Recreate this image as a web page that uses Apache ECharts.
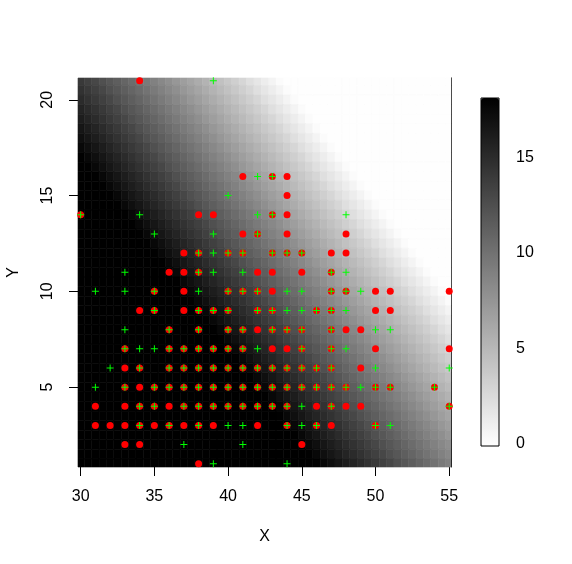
<!DOCTYPE html>
<html>
<head>
<meta charset="utf-8">
<script src="https://cdn.jsdelivr.net/npm/echarts@6/dist/echarts.min.js"></script>
<style>
  html, body { margin: 0; padding: 0; background: #fff; }
  #chart { width: 572px; height: 564px; }
</style>
</head>
<body>
<div id="chart"></div>
<script>
// grid columns (X) and rows (Y) of the shaded surface, half-unit steps
var heatX = [30, 30.5, 31, 31.5, 32, 32.5, 33, 33.5, 34, 34.5, 35, 35.5, 36, 36.5, 37, 37.5, 38, 38.5, 39, 39.5,
  40, 40.5, 41, 41.5, 42, 42.5, 43, 43.5, 44, 44.5, 45, 45.5, 46, 46.5, 47, 47.5, 48, 48.5, 49, 49.5,
  50, 50.5, 51, 51.5, 52, 52.5, 53, 53.5, 54, 54.5, 55];
var heatY = [21, 20.5, 20, 19.5, 19, 18.5, 18, 17.5, 17, 16.5, 16, 15.5, 15, 14.5, 14, 13.5, 13, 12.5, 12, 11.5,
  11, 10.5, 10, 9.5, 9, 8.5, 8, 7.5, 7, 6.5, 6, 5.5, 5, 4.5, 4, 3.5, 3, 2.5, 2, 1.5, 1];
var heatRowText = [
  '14.0 13.5 13.0 12.4 11.9 11.4 10.9 10.4 9.9 9.4 8.9 8.4 7.9 7.3 6.8 6.3 5.8 5.3 4.8 4.3 3.8 3.3 2.8 2.2 1.7 1.2 0.7 0.2 0 0 0 0 0 0 0 0 0 0 0 0 0 0 0 0 0 0 0 0 0 0 0',
  '14.5 14.0 13.5 13.0 12.4 11.9 11.4 10.9 10.4 9.9 9.4 8.9 8.4 7.9 7.3 6.8 6.3 5.8 5.3 4.8 4.3 3.8 3.3 2.8 2.2 1.7 1.2 0.7 0.2 0 0 0 0 0 0 0 0 0 0 0 0 0 0 0 0 0 0 0 0 0 0',
  '15.0 14.5 14.0 13.5 13.0 12.4 11.9 11.4 10.9 10.4 9.9 9.4 8.9 8.4 7.9 7.3 6.8 6.3 5.8 5.3 4.8 4.3 3.8 3.3 2.8 2.2 1.7 1.2 0.7 0.2 0 0 0 0 0 0 0 0 0 0 0 0 0 0 0 0 0 0 0 0 0',
  '15.5 15.0 14.5 14.0 13.5 13.0 12.4 11.9 11.4 10.9 10.4 9.9 9.4 8.9 8.4 7.9 7.3 6.8 6.3 5.8 5.3 4.8 4.3 3.8 3.3 2.8 2.2 1.7 1.2 0.7 0.2 0 0 0 0 0 0 0 0 0 0 0 0 0 0 0 0 0 0 0 0',
  '16.0 15.5 15.0 14.5 14.0 13.5 13.0 12.4 11.9 11.4 10.9 10.4 9.9 9.4 8.9 8.4 7.9 7.3 6.8 6.3 5.8 5.3 4.8 4.3 3.8 3.3 2.8 2.2 1.7 1.2 0.7 0.2 0 0 0 0 0 0 0 0 0 0 0 0 0 0 0 0 0 0 0',
  '16.5 16.0 15.5 15.0 14.5 14.0 13.5 13.0 12.4 11.9 11.4 10.9 10.4 9.9 9.4 8.9 8.4 7.9 7.3 6.8 6.3 5.8 5.3 4.8 4.3 3.8 3.3 2.8 2.2 1.7 1.2 0.7 0.2 0 0 0 0 0 0 0 0 0 0 0 0 0 0 0 0 0 0',
  '17.0 16.5 16.0 15.5 15.0 14.5 14.0 13.5 13.0 12.4 11.9 11.4 10.9 10.4 9.9 9.4 8.9 8.4 7.9 7.3 6.8 6.3 5.8 5.3 4.8 4.3 3.8 3.3 2.8 2.2 1.7 1.2 0.7 0.2 0 0 0 0 0 0 0 0 0 0 0 0 0 0 0 0 0',
  '17.5 17.0 16.5 16.0 15.5 15.0 14.5 14.0 13.5 13.0 12.4 11.9 11.4 10.9 10.4 9.9 9.4 8.9 8.4 7.9 7.3 6.8 6.3 5.8 5.3 4.8 4.3 3.8 3.3 2.8 2.2 1.7 1.2 0.7 0.2 0 0 0 0 0 0 0 0 0 0 0 0 0 0 0 0',
  '18.0 17.5 17.0 16.5 16.0 15.5 15.0 14.5 14.0 13.5 13.0 12.4 11.9 11.4 10.9 10.4 9.9 9.4 8.9 8.4 7.9 7.3 6.8 6.3 5.8 5.3 4.8 4.3 3.8 3.3 2.8 2.2 1.7 1.2 0.7 0.2 0 0 0 0 0 0 0 0 0 0 0 0 0 0 0',
  '18.1 18.0 17.5 17.0 16.5 16.0 15.5 15.0 14.5 14.0 13.5 13.0 12.4 11.9 11.4 10.9 10.4 9.9 9.4 8.9 8.4 7.9 7.3 6.8 6.3 5.8 5.3 4.8 4.3 3.8 3.3 2.8 2.2 1.7 1.2 0.7 0.2 0 0 0 0 0 0 0 0 0 0 0 0 0 0',
  '18.1 18.1 18.0 17.5 17.0 16.5 16.0 15.5 15.0 14.5 14.0 13.5 13.0 12.4 11.9 11.4 10.9 10.4 9.9 9.4 8.9 8.4 7.9 7.3 6.8 6.3 5.8 5.3 4.8 4.3 3.8 3.3 2.8 2.2 1.7 1.2 0.7 0.2 0 0 0 0 0 0 0 0 0 0 0 0 0',
  '18.1 18.1 18.1 18.0 17.5 17.0 16.5 16.0 15.5 15.0 14.5 14.0 13.5 13.0 12.4 11.9 11.4 10.9 10.4 9.9 9.4 8.9 8.4 7.9 7.3 6.8 6.3 5.8 5.3 4.8 4.3 3.8 3.3 2.8 2.2 1.7 1.2 0.7 0.2 0 0 0 0 0 0 0 0 0 0 0 0',
  '18.1 18.1 18.1 18.1 18.0 17.5 17.0 16.5 16.0 15.5 15.0 14.5 14.0 13.5 13.0 12.4 11.9 11.4 10.9 10.4 9.9 9.4 8.9 8.4 7.9 7.3 6.8 6.3 5.8 5.3 4.8 4.3 3.8 3.3 2.8 2.2 1.7 1.2 0.7 0.2 0 0 0 0 0 0 0 0 0 0 0',
  '18.1 18.1 18.1 18.1 18.1 18.0 17.5 17.0 16.5 16.0 15.5 15.0 14.5 14.0 13.5 13.0 12.4 11.9 11.4 10.9 10.4 9.9 9.4 8.9 8.4 7.9 7.3 6.8 6.3 5.8 5.3 4.8 4.3 3.8 3.3 2.8 2.2 1.7 1.2 0.7 0.2 0 0 0 0 0 0 0 0 0 0',
  '18.1 18.1 18.1 18.1 18.1 18.1 18.0 17.5 17.0 16.5 16.0 15.5 15.0 14.5 14.0 13.5 13.0 12.4 11.9 11.4 10.9 10.4 9.9 9.4 8.9 8.4 7.9 7.3 6.8 6.3 5.8 5.3 4.8 4.3 3.8 3.3 2.8 2.2 1.7 1.2 0.7 0.2 0 0 0 0 0 0 0 0 0',
  '18.1 18.1 18.1 18.1 18.1 18.1 18.1 18.0 17.5 17.0 16.5 16.0 15.5 15.0 14.5 14.0 13.5 13.0 12.4 11.9 11.4 10.9 10.4 9.9 9.4 8.9 8.4 7.9 7.3 6.8 6.3 5.8 5.3 4.8 4.3 3.8 3.3 2.8 2.2 1.7 1.2 0.7 0.2 0 0 0 0 0 0 0 0',
  '18.1 18.1 18.1 18.1 18.1 18.1 18.1 18.1 18.0 17.5 17.0 16.5 16.0 15.5 15.0 14.5 14.0 13.5 13.0 12.4 11.9 11.4 10.9 10.4 9.9 9.4 8.9 8.4 7.9 7.3 6.8 6.3 5.8 5.3 4.8 4.3 3.8 3.3 2.8 2.2 1.7 1.2 0.7 0.2 0 0 0 0 0 0 0',
  '18.1 18.1 18.1 18.1 18.1 18.1 18.1 18.1 18.1 18.0 17.5 17.0 16.5 16.0 15.5 15.0 14.5 14.0 13.5 13.0 12.4 11.9 11.4 10.9 10.4 9.9 9.4 8.9 8.4 7.9 7.3 6.8 6.3 5.8 5.3 4.8 4.3 3.8 3.3 2.8 2.2 1.7 1.2 0.7 0.2 0 0 0 0 0 0',
  '18.1 18.1 18.1 18.1 18.1 18.1 18.1 18.1 18.1 18.1 18.0 17.5 17.0 16.5 16.0 15.5 15.0 14.5 14.0 13.5 13.0 12.4 11.9 11.4 10.9 10.4 9.9 9.4 8.9 8.4 7.9 7.3 6.8 6.3 5.8 5.3 4.8 4.3 3.8 3.3 2.8 2.2 1.7 1.2 0.7 0.2 0 0 0 0 0',
  '18.1 18.1 18.1 18.1 18.1 18.1 18.1 18.1 18.1 18.1 18.1 18.0 17.5 17.0 16.5 16.0 15.5 15.0 14.5 14.0 13.5 13.0 12.4 11.9 11.4 10.9 10.4 9.9 9.4 8.9 8.4 7.9 7.3 6.8 6.3 5.8 5.3 4.8 4.3 3.8 3.3 2.8 2.2 1.7 1.2 0.7 0.2 0 0 0 0',
  '18.1 18.1 18.1 18.1 18.1 18.1 18.1 18.1 18.1 18.1 18.1 18.1 18.0 17.5 17.0 16.5 16.0 15.5 15.0 14.5 14.0 13.5 13.0 12.4 11.9 11.4 10.9 10.4 9.9 9.4 8.9 8.4 7.9 7.3 6.8 6.3 5.8 5.3 4.8 4.3 3.8 3.3 2.8 2.2 1.7 1.2 0.7 0.2 0 0 0',
  '18.1 18.1 18.1 18.1 18.1 18.1 18.1 18.1 18.1 18.1 18.1 18.1 18.1 18.0 17.5 17.0 16.5 16.0 15.5 15.0 14.5 14.0 13.5 13.0 12.4 11.9 11.4 10.9 10.4 9.9 9.4 8.9 8.4 7.9 7.3 6.8 6.3 5.8 5.3 4.8 4.3 3.8 3.3 2.8 2.2 1.7 1.2 0.7 0.2 0 0',
  '18.1 18.1 18.1 18.1 18.1 18.1 18.1 18.1 18.1 18.1 18.1 18.1 18.1 18.1 18.0 17.5 17.0 16.5 16.0 15.5 15.0 14.5 14.0 13.5 13.0 12.4 11.9 11.4 10.9 10.4 9.9 9.4 8.9 8.4 7.9 7.3 6.8 6.3 5.8 5.3 4.8 4.3 3.8 3.3 2.8 2.2 1.7 1.2 0.7 0.2 0',
  '18.1 18.1 18.1 18.1 18.1 18.1 18.1 18.1 18.1 18.1 18.1 18.1 18.1 18.1 18.1 18.0 17.5 17.0 16.5 16.0 15.5 15.0 14.5 14.0 13.5 13.0 12.4 11.9 11.4 10.9 10.4 9.9 9.4 8.9 8.4 7.9 7.3 6.8 6.3 5.8 5.3 4.8 4.3 3.8 3.3 2.8 2.2 1.7 1.2 0.7 0.2',
  '18.1 18.1 18.1 18.1 18.1 18.1 18.1 18.1 18.1 18.1 18.1 18.1 18.1 18.1 18.1 18.1 18.0 17.5 17.0 16.5 16.0 15.5 15.0 14.5 14.0 13.5 13.0 12.4 11.9 11.4 10.9 10.4 9.9 9.4 8.9 8.4 7.9 7.3 6.8 6.3 5.8 5.3 4.8 4.3 3.8 3.3 2.8 2.2 1.7 1.2 0.7',
  '18.1 18.1 18.1 18.1 18.1 18.1 18.1 18.1 18.1 18.1 18.1 18.1 18.1 18.1 18.1 18.1 18.1 18.0 17.5 17.0 16.5 16.0 15.5 15.0 14.5 14.0 13.5 13.0 12.4 11.9 11.4 10.9 10.4 9.9 9.4 8.9 8.4 7.9 7.3 6.8 6.3 5.8 5.3 4.8 4.3 3.8 3.3 2.8 2.2 1.7 1.2',
  '18.1 18.1 18.1 18.1 18.1 18.1 18.1 18.1 18.1 18.1 18.1 18.1 18.1 18.1 18.1 18.1 18.1 18.1 18.0 17.5 17.0 16.5 16.0 15.5 15.0 14.5 14.0 13.5 13.0 12.4 11.9 11.4 10.9 10.4 9.9 9.4 8.9 8.4 7.9 7.3 6.8 6.3 5.8 5.3 4.8 4.3 3.8 3.3 2.8 2.2 1.7',
  '18.1 18.1 18.1 18.1 18.1 18.1 18.1 18.1 18.1 18.1 18.1 18.1 18.1 18.1 18.1 18.1 18.1 18.1 18.1 18.0 17.5 17.0 16.5 16.0 15.5 15.0 14.5 14.0 13.5 13.0 12.4 11.9 11.4 10.9 10.4 9.9 9.4 8.9 8.4 7.9 7.3 6.8 6.3 5.8 5.3 4.8 4.3 3.8 3.3 2.8 2.2',
  '18.1 18.1 18.1 18.1 18.1 18.1 18.1 18.1 18.1 18.1 18.1 18.1 18.1 18.1 18.1 18.1 18.1 18.1 18.1 18.1 18.0 17.5 17.0 16.5 16.0 15.5 15.0 14.5 14.0 13.5 13.0 12.4 11.9 11.4 10.9 10.4 9.9 9.4 8.9 8.4 7.9 7.3 6.8 6.3 5.8 5.3 4.8 4.3 3.8 3.3 2.8',
  '18.1 18.1 18.1 18.1 18.1 18.1 18.1 18.1 18.1 18.1 18.1 18.1 18.1 18.1 18.1 18.1 18.1 18.1 18.1 18.1 18.1 18.0 17.5 17.0 16.5 16.0 15.5 15.0 14.5 14.0 13.5 13.0 12.4 11.9 11.4 10.9 10.4 9.9 9.4 8.9 8.4 7.9 7.3 6.8 6.3 5.8 5.3 4.8 4.3 3.8 3.3',
  '18.1 18.1 18.1 18.1 18.1 18.1 18.1 18.1 18.1 18.1 18.1 18.1 18.1 18.1 18.1 18.1 18.1 18.1 18.1 18.1 18.1 18.1 18.0 17.5 17.0 16.5 16.0 15.5 15.0 14.5 14.0 13.5 13.0 12.4 11.9 11.4 10.9 10.4 9.9 9.4 8.9 8.4 7.9 7.3 6.8 6.3 5.8 5.3 4.8 4.3 3.8',
  '18.1 18.1 18.1 18.1 18.1 18.1 18.1 18.1 18.1 18.1 18.1 18.1 18.1 18.1 18.1 18.1 18.1 18.1 18.1 18.1 18.1 18.1 18.1 18.0 17.5 17.0 16.5 16.0 15.5 15.0 14.5 14.0 13.5 13.0 12.4 11.9 11.4 10.9 10.4 9.9 9.4 8.9 8.4 7.9 7.3 6.8 6.3 5.8 5.3 4.8 4.3',
  '18.1 18.1 18.1 18.1 18.1 18.1 18.1 18.1 18.1 18.1 18.1 18.1 18.1 18.1 18.1 18.1 18.1 18.1 18.1 18.1 18.1 18.1 18.1 18.1 18.0 17.5 17.0 16.5 16.0 15.5 15.0 14.5 14.0 13.5 13.0 12.4 11.9 11.4 10.9 10.4 9.9 9.4 8.9 8.4 7.9 7.3 6.8 6.3 5.8 5.3 4.8',
  '18.1 18.1 18.1 18.1 18.1 18.1 18.1 18.1 18.1 18.1 18.1 18.1 18.1 18.1 18.1 18.1 18.1 18.1 18.1 18.1 18.1 18.1 18.1 18.1 18.1 18.0 17.5 17.0 16.5 16.0 15.5 15.0 14.5 14.0 13.5 13.0 12.4 11.9 11.4 10.9 10.4 9.9 9.4 8.9 8.4 7.9 7.3 6.8 6.3 5.8 5.3',
  '18.1 18.1 18.1 18.1 18.1 18.1 18.1 18.1 18.1 18.1 18.1 18.1 18.1 18.1 18.1 18.1 18.1 18.1 18.1 18.1 18.1 18.1 18.1 18.1 18.1 18.1 18.0 17.5 17.0 16.5 16.0 15.5 15.0 14.5 14.0 13.5 13.0 12.4 11.9 11.4 10.9 10.4 9.9 9.4 8.9 8.4 7.9 7.3 6.8 6.3 5.8',
  '18.1 18.1 18.1 18.1 18.1 18.1 18.1 18.1 18.1 18.1 18.1 18.1 18.1 18.1 18.1 18.1 18.1 18.1 18.1 18.1 18.1 18.1 18.1 18.1 18.1 18.1 18.1 18.0 17.5 17.0 16.5 16.0 15.5 15.0 14.5 14.0 13.5 13.0 12.4 11.9 11.4 10.9 10.4 9.9 9.4 8.9 8.4 7.9 7.3 6.8 6.3',
  '18.1 18.1 18.1 18.1 18.1 18.1 18.1 18.1 18.1 18.1 18.1 18.1 18.1 18.1 18.1 18.1 18.1 18.1 18.1 18.1 18.1 18.1 18.1 18.1 18.1 18.1 18.1 18.1 18.0 17.5 17.0 16.5 16.0 15.5 15.0 14.5 14.0 13.5 13.0 12.4 11.9 11.4 10.9 10.4 9.9 9.4 8.9 8.4 7.9 7.3 6.8',
  '18.1 18.1 18.1 18.1 18.1 18.1 18.1 18.1 18.1 18.1 18.1 18.1 18.1 18.1 18.1 18.1 18.1 18.1 18.1 18.1 18.1 18.1 18.1 18.1 18.1 18.1 18.1 18.1 18.1 18.0 17.5 17.0 16.5 16.0 15.5 15.0 14.5 14.0 13.5 13.0 12.4 11.9 11.4 10.9 10.4 9.9 9.4 8.9 8.4 7.9 7.3',
  '18.1 18.1 18.1 18.1 18.1 18.1 18.1 18.1 18.1 18.1 18.1 18.1 18.1 18.1 18.1 18.1 18.1 18.1 18.1 18.1 18.1 18.1 18.1 18.1 18.1 18.1 18.1 18.1 18.1 18.1 18.0 17.5 17.0 16.5 16.0 15.5 15.0 14.5 14.0 13.5 13.0 12.4 11.9 11.4 10.9 10.4 9.9 9.4 8.9 8.4 7.9',
  '18.1 18.1 18.1 18.1 18.1 18.1 18.1 18.1 18.1 18.1 18.1 18.1 18.1 18.1 18.1 18.1 18.1 18.1 18.1 18.1 18.1 18.1 18.1 18.1 18.1 18.1 18.1 18.1 18.1 18.1 18.1 18.0 17.5 17.0 16.5 16.0 15.5 15.0 14.5 14.0 13.5 13.0 12.4 11.9 11.4 10.9 10.4 9.9 9.4 8.9 8.4',
  '18.1 18.1 18.1 18.1 18.1 18.1 18.1 18.1 18.1 18.1 18.1 18.1 18.1 18.1 18.1 18.1 18.1 18.1 18.1 18.1 18.1 18.1 18.1 18.1 18.1 18.1 18.1 18.1 18.1 18.1 18.1 18.1 18.0 17.5 17.0 16.5 16.0 15.5 15.0 14.5 14.0 13.5 13.0 12.4 11.9 11.4 10.9 10.4 9.9 9.4 8.9'
];

// red filled circles [x, y]
var redPoints = [
  [34, 21],
  [41, 16], [43, 16], [44, 16],
  [44, 15],
  [30, 14], [38, 14], [39, 14], [43, 14], [44, 14],
  [41, 13], [42, 13], [44, 13], [48, 13],
  [37, 12], [38, 12], [40, 12], [41, 12], [43, 12], [44, 12], [45, 12], [47, 12], [48, 12],
  [36, 11], [37, 11], [38, 11], [42, 11], [43, 11], [45, 11], [47, 11],
  [35, 10], [37, 10], [40, 10], [41, 10], [42, 10], [43, 10], [47, 10], [48, 10], [50, 10], [51, 10], [55, 10],
  [34, 9], [35, 9], [37, 9], [38, 9], [39, 9], [40, 9], [42, 9], [43, 9], [46, 9], [47, 9], [50, 9], [51, 9],
  [36, 8], [38, 8], [40, 8], [41, 8], [42, 8], [43, 8], [44, 8], [45, 8], [47, 8], [48, 8], [49, 8],
  [33, 7], [36, 7], [37, 7], [38, 7], [39, 7], [40, 7], [41, 7], [43, 7], [44, 7], [45, 7], [47, 7], [50, 7], [55, 7],
  [33, 6], [34, 6], [36, 6], [37, 6], [38, 6], [39, 6], [40, 6], [41, 6], [42, 6], [43, 6], [44, 6], [45, 6], [46, 6], [47, 6], [49, 6],
  [33, 5], [34, 5], [35, 5], [36, 5], [37, 5], [38, 5], [39, 5], [40, 5], [41, 5], [42, 5], [43, 5], [44, 5], [45, 5], [46, 5], [47, 5], [48, 5], [50, 5], [51, 5], [54, 5],
  [31, 4], [33, 4], [34, 4], [35, 4], [36, 4], [37, 4], [38, 4], [39, 4], [40, 4], [41, 4], [42, 4], [43, 4], [44, 4], [46, 4], [47, 4], [48, 4], [49, 4], [55, 4],
  [31, 3], [32, 3], [33, 3], [34, 3], [35, 3], [36, 3], [37, 3], [38, 3], [39, 3], [42, 3], [44, 3], [46, 3], [47, 3], [50, 3],
  [33, 2], [34, 2], [45, 2],
  [38, 1]
];

// green plus signs [x, y]
var greenPoints = [
  [39, 21],
  [42, 16], [43, 16],
  [40, 15],
  [30, 14], [34, 14], [42, 14], [43, 14], [48, 14],
  [35, 13], [39, 13], [42, 13],
  [38, 12], [39, 12], [40, 12], [41, 12], [43, 12], [44, 12], [45, 12],
  [33, 11], [38, 11], [39, 11], [41, 11], [47, 11], [48, 11],
  [31, 10], [33, 10], [35, 10], [38, 10], [40, 10], [41, 10], [42, 10], [44, 10], [45, 10], [47, 10], [48, 10], [49, 10],
  [35, 9], [38, 9], [39, 9], [40, 9], [42, 9], [43, 9], [44, 9], [45, 9], [46, 9], [47, 9], [48, 9],
  [33, 8], [36, 8], [38, 8], [40, 8], [41, 8], [43, 8], [44, 8], [45, 8], [47, 8], [50, 8], [51, 8],
  [33, 7], [34, 7], [35, 7], [36, 7], [37, 7], [38, 7], [39, 7], [40, 7], [41, 7], [42, 7], [45, 7], [47, 7], [48, 7],
  [32, 6], [34, 6], [36, 6], [37, 6], [38, 6], [39, 6], [40, 6], [41, 6], [42, 6], [43, 6], [44, 6], [45, 6], [46, 6], [47, 6], [50, 6], [55, 6],
  [31, 5], [33, 5], [35, 5], [36, 5], [37, 5], [38, 5], [39, 5], [40, 5], [41, 5], [42, 5], [43, 5], [44, 5], [45, 5], [46, 5], [47, 5], [48, 5], [49, 5], [50, 5], [51, 5], [54, 5],
  [34, 4], [35, 4], [37, 4], [38, 4], [39, 4], [40, 4], [41, 4], [42, 4], [43, 4], [44, 4], [45, 4], [47, 4], [55, 4],
  [34, 3], [36, 3], [38, 3], [40, 3], [41, 3], [44, 3], [45, 3], [46, 3], [50, 3], [51, 3],
  [37, 2], [41, 2],
  [39, 1], [44, 1]
];

var xTicks = [30, 35, 40, 45, 50, 55];
var yTicks = [5, 10, 15, 20];
var legendTicks = [0, 5, 10, 15];

// surface cells as [x, y, value]
var heatData = [];
heatY.forEach(function (y, i) {
  var row = heatRowText[i].split(' ').map(Number);
  heatX.forEach(function (x, j) {
    heatData.push([x, y, row[j] || 0]);
  });
});
var cellHalf = 0.25;

var font = 'Liberation Sans, Arial, sans-serif';
var plusPath = 'path://M0,3H3V0H4V3H7V4H4V7H3V4H0Z';

var myChart = echarts.init(document.getElementById('chart'));
var option = {
  animation: false,
  backgroundColor: '#fff',
  textStyle: { fontFamily: font },
  grid: [
    { left: 78, top: 78, width: 373, height: 389, show: false, containLabel: false, outerBoundsMode: 'none' },
    { left: 481, top: 98, width: 18, height: 348, show: true, z: 10, containLabel: false, outerBoundsMode: 'none',
      borderColor: '#000', borderWidth: 1, backgroundColor: 'transparent' }
  ],
  visualMap: {
    type: 'continuous',
    seriesIndex: 0,
    dimension: 2,
    min: -0.1,
    max: 18.1,
    calculable: false,
    showLabel: false,
    text: null,
    left: 481,
    top: 98,
    padding: 0,
    itemWidth: 18,
    itemHeight: 348,
    inRange: { color: ['#ffffff', '#000000'] }
  },
  xAxis: [
    {
      type: 'value', gridIndex: 0, min: 29.82, max: 55.12,
      name: 'X', nameLocation: 'middle', nameGap: 62,
      nameTextStyle: { fontSize: 16, color: '#000', fontFamily: font },
      axisLine: { show: false },
      axisTick: { show: true, length: 9, customValues: xTicks, lineStyle: { color: '#000' } },
      axisLabel: { fontSize: 16, color: '#000', margin: 22, customValues: xTicks },
      splitLine: { show: false }
    },
    { type: 'value', gridIndex: 1, show: false, min: 0, max: 1 }
  ],
  yAxis: [
    {
      // ticks and title of the Y axis
      type: 'value', gridIndex: 0, min: 0.83, max: 21.14,
      name: 'Y', nameLocation: 'middle', nameGap: 56,
      nameTextStyle: { fontSize: 16, color: '#000', fontFamily: font },
      axisLine: { show: false },
      axisTick: { show: true, length: 9, customValues: yTicks, lineStyle: { color: '#000' } },
      axisLabel: { show: false },
      splitLine: { show: false }
    },
    {
      // right border line of the image
      type: 'value', gridIndex: 0, position: 'right', min: 0.83, max: 21.14,
      axisLine: { show: true, lineStyle: { color: '#000', width: 1 } },
      axisTick: { show: false }, axisLabel: { show: false }, splitLine: { show: false }
    },
    {
      type: 'value', gridIndex: 1, position: 'right', min: -0.1, max: 18.1,
      axisLine: { show: false },
      axisTick: { show: true, length: 10, customValues: legendTicks, lineStyle: { color: '#000' } },
      axisLabel: { fontSize: 16, color: '#000', margin: 17, customValues: legendTicks },
      splitLine: { show: false }
    },
    {
      // Y tick labels, set further out from the plot
      type: 'value', gridIndex: 0, position: 'left', offset: 22, min: 0.83, max: 21.14,
      axisLine: { show: false }, axisTick: { show: false }, splitLine: { show: false },
      axisLabel: { fontSize: 16, color: '#000', margin: 0, rotate: 90, customValues: yTicks }
    }
  ],
  series: [
    {
      type: 'custom',
      xAxisIndex: 0,
      yAxisIndex: 0,
      data: heatData,
      silent: true,
      renderItem: function (params, api) {
        var x = api.value(0), y = api.value(1);
        var p0 = api.coord([x - cellHalf, y + cellHalf]);
        var p1 = api.coord([x + cellHalf, y - cellHalf]);
        var rect = echarts.graphic.clipRectByRect(
          { x: p0[0], y: p0[1], width: p1[0] - p0[0], height: p1[1] - p0[1] },
          { x: params.coordSys.x, y: params.coordSys.y, width: params.coordSys.width, height: params.coordSys.height }
        );
        if (!rect) return;
        var c = api.visual('color');
        return { type: 'rect', shape: rect, style: { fill: c, stroke: c, lineWidth: 0.6 } };
      }
    },
    {
      type: 'scatter',
      xAxisIndex: 0,
      yAxisIndex: 0,
      data: redPoints,
      symbol: 'circle',
      symbolSize: 7,
      itemStyle: { color: '#ff0000', opacity: 1 },
      silent: true
    },
    {
      type: 'scatter',
      xAxisIndex: 0,
      yAxisIndex: 0,
      data: greenPoints,
      symbol: plusPath,
      symbolSize: 7,
      itemStyle: { color: '#00ff00', opacity: 1 },
      silent: true
    }
  ]
};
myChart.setOption(option);
window.addEventListener('resize', function () {
  myChart.resize();
});
</script>
</body>
</html>
